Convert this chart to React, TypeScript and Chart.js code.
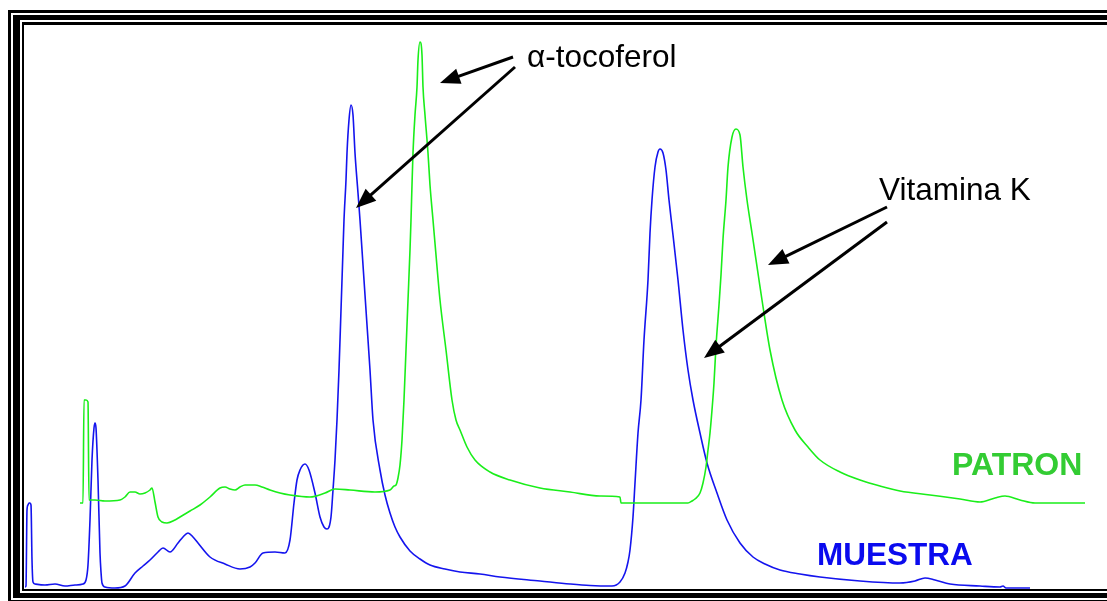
import React, { useEffect, useRef } from "react";
import { Chart, registerables } from "chart.js";

Chart.register(...registerables);

// Retention time (min) and detector signal (mV) for the sample (MUESTRA)
const muestraTime = [
  0.01, 0.02, 0.03, 0.04, 0.05, 0.06, 0.07, 0.08, 0.09, 0.11, 0.21, 0.31, 0.41, 0.51, 0.59, 0.62, 0.64, 0.66, 0.68, 0.70,
  0.71, 0.72, 0.74, 0.76, 0.77, 0.78, 0.81, 0.91, 1.01, 1.11, 1.19, 1.26, 1.34, 1.39, 1.46, 1.54, 1.59, 1.64, 1.69, 1.74,
  1.86, 2.01, 2.16, 2.26, 2.31, 2.39, 2.51, 2.61, 2.66, 2.70, 2.73, 2.76, 2.81, 2.85, 2.91, 2.96, 3.00, 3.03, 3.07, 3.09,
  3.11, 3.13, 3.15, 3.17, 3.19, 3.20, 3.22, 3.23, 3.25, 3.27, 3.29, 3.31, 3.34, 3.36, 3.39, 3.43, 3.46, 3.49, 3.56, 3.61,
  3.66, 3.71, 3.76, 3.86, 3.96, 4.06, 4.21, 4.36, 4.56, 4.76, 5.16, 5.46, 5.66, 5.88, 5.96, 6.01, 6.04, 6.06, 6.09, 6.11,
  6.14, 6.17, 6.20, 6.24, 6.26, 6.28, 6.31, 6.34, 6.36, 6.39, 6.42, 6.45, 6.49, 6.54, 6.59, 6.64, 6.69, 6.76, 6.83, 6.93,
  7.03, 7.16, 7.29, 7.41, 7.56, 7.76, 7.96, 8.36, 8.76, 8.91, 9.01, 9.11, 9.26, 9.56, 9.76, 9.79, 9.82, 10.06,
];
const muestraSignal = [
  0.2, 0.3, 7.9, 8.4, 8.6, 8.6, 8.4, 2.9, 0.7, 0.5, 0.4, 0.5, 0.3, 0.4, 0.5, 0.9, 2.4, 6.9, 12.9, 16.1,
  16.6, 16.1, 10.9, 3.6, 1.7, 0.6, 0.2, 0.1, 0.3, 1.6, 2.3, 2.9, 3.7, 4.1, 3.7, 4.6, 5.2, 5.6, 5.2, 4.6,
  3.2, 2.5, 2.0, 2.2, 2.6, 3.6, 3.7, 3.6, 4.9, 8.6, 10.9, 11.9, 12.5, 11.9, 9.6, 7.2, 6.2, 6.0, 7.2, 9.9,
  12.9, 16.9, 21.9, 27.9, 33.9, 36.9, 40.9, 43.6, 46.9, 48.4, 47.4, 43.6, 39.6, 36.9, 32.4, 26.4, 21.9, 16.9, 11.9, 9.4,
  7.6, 6.2, 5.2, 3.8, 3.0, 2.4, 2.0, 1.7, 1.5, 1.2, 0.8, 0.5, 0.35, 0.3, 0.7, 1.6, 2.7, 3.9, 7.2, 10.6,
  15.6, 18.9, 24.9, 30.9, 35.6, 38.9, 42.2, 43.7, 44.0, 43.6, 41.9, 38.9, 35.4, 30.9, 25.9, 21.9, 18.9, 15.6, 12.6, 9.6,
  6.9, 4.6, 3.2, 2.5, 1.9, 1.5, 1.2, 0.8, 0.6, 0.8, 1.1, 0.9, 0.5, 0.3, 0.2, 0.3, 0.1, 0.1,
];

// Retention time (min) and detector signal (mV) for the standard (PATRON)
const patronTime = [
  0.56, 0.59, 0.60, 0.62, 0.64, 0.65, 0.71, 0.81, 0.96, 1.01, 1.06, 1.11, 1.16, 1.21, 1.26, 1.28, 1.31, 1.34, 1.38, 1.43,
  1.51, 1.56, 1.66, 1.76, 1.86, 1.96, 2.01, 2.06, 2.11, 2.16, 2.21, 2.31, 2.38, 2.46, 2.56, 2.66, 2.86, 3.01, 3.11, 3.26,
  3.51, 3.66, 3.70, 3.72, 3.74, 3.76, 3.78, 3.80, 3.82, 3.84, 3.86, 3.87, 3.88, 3.89, 3.91, 3.93, 3.94, 3.96, 3.98, 3.99,
  4.01, 4.04, 4.06, 4.09, 4.12, 4.16, 4.22, 4.28, 4.32, 4.36, 4.43, 4.51, 4.66, 4.86, 5.16, 5.46, 5.76, 5.96, 5.97, 6.26,
  6.64, 6.68, 6.71, 6.76, 6.79, 6.82, 6.84, 6.86, 6.88, 6.90, 6.92, 6.95, 6.97, 6.99, 7.02, 7.04, 7.08, 7.12, 7.16, 7.19,
  7.23, 7.28, 7.35, 7.38, 7.46, 7.58, 7.71, 7.84, 7.96, 8.16, 8.36, 8.56, 8.76, 9.06, 9.36, 9.56, 9.71, 9.81, 9.96, 10.11,
  10.36, 10.61,
];
const patronSignal = [
  8.6, 8.6, 18.9, 18.9, 18.7, 8.9, 8.9, 8.8, 8.9, 9.2, 9.7, 9.7, 9.5, 9.6, 9.9, 10.1, 8.7, 7.2, 6.7, 6.6,
  6.9, 7.2, 7.8, 8.4, 9.2, 10.1, 10.2, 10.0, 9.9, 10.2, 10.4, 10.4, 10.2, 9.9, 9.6, 9.4, 9.2, 9.6, 10.0, 9.9,
  9.7, 9.9, 10.3, 10.4, 11.1, 12.4, 14.9, 18.9, 23.9, 28.9, 33.9, 36.9, 40.4, 43.6, 47.4, 50.2, 52.9, 54.7, 53.4, 50.2,
  47.4, 43.6, 40.4, 36.9, 33.4, 28.9, 23.9, 18.9, 16.9, 15.9, 14.2, 12.9, 11.7, 10.9, 10.1, 9.7, 9.3, 9.2, 8.6, 8.6,
  8.6, 8.8, 9.0, 9.6, 10.6, 12.2, 13.9, 15.6, 17.9, 20.6, 24.3, 28.4, 31.4, 35.0, 38.9, 42.2, 45.2, 46.0, 45.4, 42.2,
  38.9, 35.6, 30.9, 28.9, 23.9, 18.9, 15.9, 14.2, 12.9, 11.7, 10.9, 10.3, 9.8, 9.4, 9.0, 8.7, 9.1, 9.3, 8.9, 8.6,
  8.6, 8.6,
];

// Annotations (positions in data units: min, mV)
const labelTexts = ["α-tocoferol", "Vitamina K", "PATRON", "MUESTRA"];
const labelTime = [5.03, 8.55, 9.28, 7.93];
const labelSignal = [52.2, 38.9, 11.4, 2.4];

const arrowFromTime = [4.89, 4.91, 8.63, 8.63];
const arrowFromSignal = [53.2, 52.2, 38.2, 36.7];
const arrowToTime = [4.16, 3.32, 7.44, 6.8];
const arrowToSignal = [50.6, 38.1, 32.4, 23.1];

const TIME_MAX = 10.83;
const SIGNAL_MAX = 56.4;

const FONT = "'Liberation Sans', Arial, Helvetica, sans-serif";
const labelFonts = [
  `31.5px ${FONT}`,
  `31.5px ${FONT}`,
  `bold 32px ${FONT}`,
  `bold 31.5px ${FONT}`,
];
const labelColors = ["#000000", "#000000", "#33cc33", "#0a0aee"];

const annotationPlugin = {
  id: "chromAnnotations",
  afterDatasetsDraw(chart: any) {
    const { ctx } = chart;
    const xs = chart.scales.x;
    const ys = chart.scales.y;
    ctx.save();
    ctx.strokeStyle = "#000";
    ctx.fillStyle = "#000";
    ctx.lineWidth = 3;
    ctx.lineCap = "butt";
    for (let i = 0; i < arrowFromTime.length; i++) {
      const x1 = xs.getPixelForValue(arrowFromTime[i]);
      const y1 = ys.getPixelForValue(arrowFromSignal[i]);
      const x2 = xs.getPixelForValue(arrowToTime[i]);
      const y2 = ys.getPixelForValue(arrowToSignal[i]);
      const ang = Math.atan2(y2 - y1, x2 - x1);
      const headLen = 20;
      const headW = 8;
      const c = Math.cos(ang);
      const s = Math.sin(ang);
      const bx = x2 - headLen * c;
      const by = y2 - headLen * s;
      ctx.beginPath();
      ctx.moveTo(x1, y1);
      ctx.lineTo(bx + 2 * c, by + 2 * s);
      ctx.stroke();
      ctx.beginPath();
      ctx.moveTo(x2, y2);
      ctx.lineTo(bx + headW * s, by - headW * c);
      ctx.lineTo(bx - headW * s, by + headW * c);
      ctx.closePath();
      ctx.fill();
    }
    ctx.textAlign = "left";
    ctx.textBaseline = "alphabetic";
    for (let i = 0; i < labelTexts.length; i++) {
      ctx.font = labelFonts[i];
      ctx.fillStyle = labelColors[i];
      ctx.fillText(
        labelTexts[i],
        xs.getPixelForValue(labelTime[i]),
        ys.getPixelForValue(labelSignal[i])
      );
    }
    ctx.restore();
  },
};

export default function App() {
  const canvasRef = useRef<HTMLCanvasElement | null>(null);

  useEffect(() => {
    const canvas = canvasRef.current;
    if (!canvas) return;
    const chart = new Chart(canvas, {
      type: "line",
      data: {
        datasets: [
          {
            label: "PATRON",
            data: patronTime.map((t, i) => ({ x: t, y: patronSignal[i] })),
            borderColor: "#1aee1a",
            borderWidth: 1.6,
            pointRadius: 0,
            cubicInterpolationMode: "monotone",
            fill: false,
          },
          {
            label: "MUESTRA",
            data: muestraTime.map((t, i) => ({ x: t, y: muestraSignal[i] })),
            borderColor: "#1414ee",
            borderWidth: 1.6,
            pointRadius: 0,
            cubicInterpolationMode: "monotone",
            fill: false,
          },
        ],
      },
      options: {
        responsive: false,
        animation: false,
        layout: { padding: 0 },
        plugins: {
          legend: { display: false },
          tooltip: { enabled: false },
          title: { display: false },
        },
        scales: {
          x: { type: "linear", min: 0, max: TIME_MAX, display: false },
          y: { type: "linear", min: 0, max: SIGNAL_MAX, display: false },
        },
      },
      plugins: [annotationPlugin],
    });
    return () => chart.destroy();
  }, []);

  return (
    <div
      style={{
        position: "fixed",
        left: 0,
        top: 0,
        width: 1107,
        height: 601,
        overflow: "hidden",
        background: "#ffffff",
      }}
    >
      <div
        style={{
          position: "absolute",
          left: 8,
          top: 10,
          border: "3px solid #000",
          padding: 2,
          background: "#fff",
        }}
      >
        <div
          style={{
            borderStyle: "solid",
            borderColor: "#000",
            borderWidth: "5px 5px 5px 7px",
            padding: 2,
            background: "#fff",
          }}
        >
          <div
            style={{
              borderStyle: "solid",
              borderColor: "#000",
              borderWidth: "3px 3px 2px 2px",
              background: "#fff",
            }}
          >
            <canvas
              ref={canvasRef}
              width={1083}
              height={564}
              style={{ display: "block", width: 1083, height: 564 }}
            />
          </div>
        </div>
      </div>
    </div>
  );
}
